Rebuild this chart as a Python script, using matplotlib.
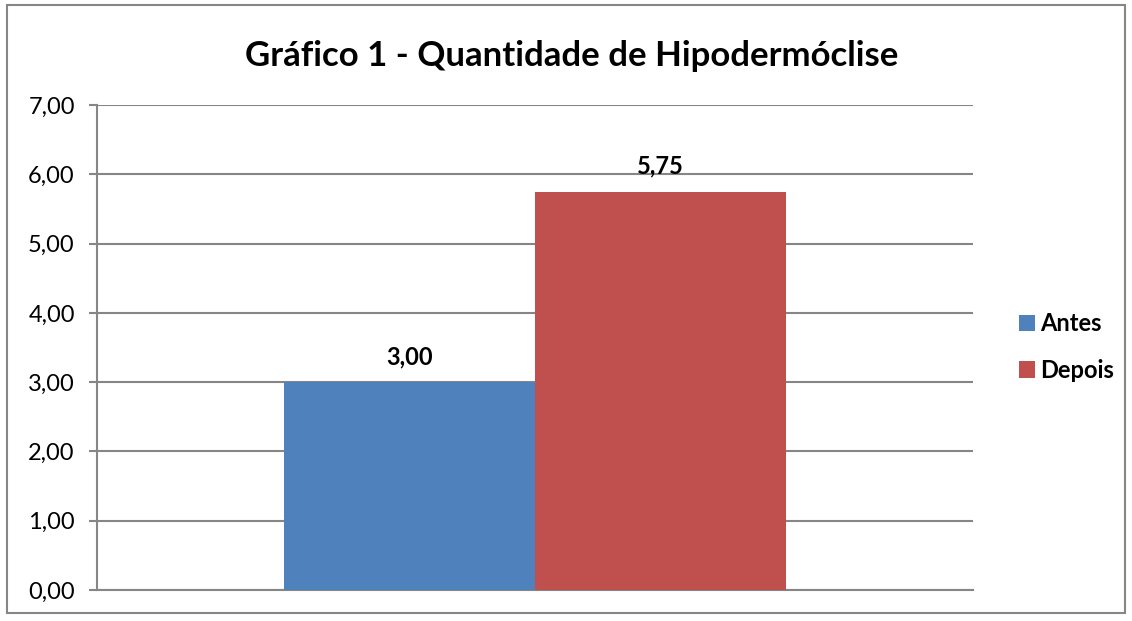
import matplotlib.pyplot as plt
from matplotlib.patches import Rectangle, Patch

plt.rcParams["font.family"] = ["Lato", "DejaVu Sans"]

SERIES = ["Antes", "Depois"]
VALUES = [3.00, 5.75]
COLORS = ["#4F81BD", "#C0504D"]
YTICKS = [0, 1, 2, 3, 4, 5, 6, 7]
TITLE = "Gráfico 1 - Quantidade de Hipodermóclise"

GRID = "#868686"

fig = plt.figure(figsize=(11.32, 6.21), dpi=100)
ax = fig.add_axes([97 / 1132, 1 - 590 / 621, 876 / 1132, 485 / 621])

w = 251 / 876
offsets = [-w / 2, w / 2]
for off, v, c in zip(offsets, VALUES, COLORS):
    ax.bar(off, v, width=w, color=c, zorder=3)
    ax.text(off, v + 0.2, f"{v:.2f}".replace(".", ","), ha="center", va="bottom",
            fontsize=17, fontweight="bold", zorder=4)

ax.set_xlim(-0.5, 0.5)
ax.set_ylim(0, 7)
ax.set_yticks(YTICKS)
ax.set_yticklabels([f"{t:.2f}".replace(".", ",") for t in YTICKS], fontsize=17)
ax.set_xticks([])
ax.yaxis.grid(True, color=GRID, linewidth=1.5, zorder=0)
for s in ["top", "right"]:
    ax.spines[s].set_visible(False)
for s in ["left", "bottom"]:
    ax.spines[s].set_color(GRID)
    ax.spines[s].set_linewidth(1.5)
ax.tick_params(axis="y", length=6, width=1.5, color=GRID, pad=10)

fig.text(572 / 1132, 1 - 56 / 621, TITLE, ha="center", va="center",
         fontsize=25, fontweight="bold")

handles = [Patch(facecolor=c) for c in COLORS]
leg = fig.legend(handles, SERIES, loc="center left", bbox_to_anchor=(1000 / 1132, 1 - 347 / 621),
                 frameon=False, handlelength=0.7, handleheight=0.7, handletextpad=0.2,
                 labelspacing=1.0, borderpad=0.3, prop={"size": 17, "weight": "bold"})

fig.patches.append(Rectangle((7 / 1132, 1 - 613 / 621), 1118 / 1132, 608 / 621,
                             transform=fig.transFigure, fill=False, edgecolor="#868686",
                             linewidth=1.5))

fig.savefig("out.png", dpi=100)
